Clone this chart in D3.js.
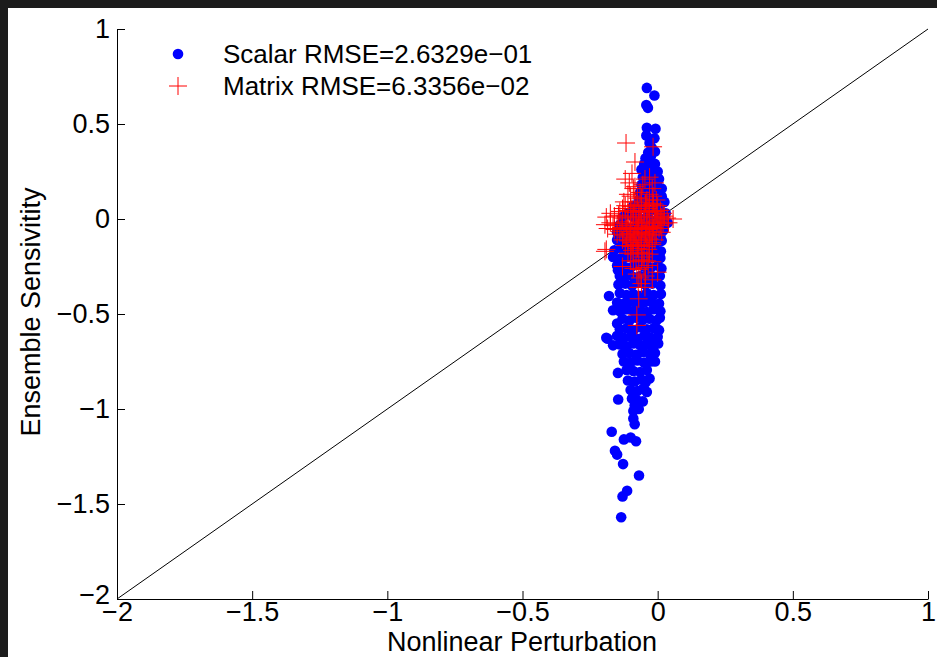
<!DOCTYPE html>
<html><head><meta charset="utf-8">
<script src="https://cdn.jsdelivr.net/npm/d3@7"></script>
<style>
html,body{margin:0;padding:0;background:#1c1c1c;}
svg{display:block;}
</style></head>
<body>
<script>
// ---- data ----
const xTicks = [-2, -1.5, -1, -0.5, 0, 0.5, 1];
const yTicks = [-2, -1.5, -1, -0.5, 0, 0.5, 1];
const xLabel = "Nonlinear Perturbation";
const yLabel = "Ensemble Sensivitity";
const legendLabels = ["Scalar RMSE=2.6329e\u221201", "Matrix RMSE=6.3356e\u221202"];
const identityLine = [[-2, -2], [1, 1]];

const scalarPts = [
 [-0.040,0.690],[-0.012,0.650],[-0.042,0.600],[-0.036,0.585],[-0.040,0.480],[-0.008,0.475],[-0.042,0.440],[-0.012,0.425],[-0.030,0.400],[-0.022,0.375],[-0.035,0.350],[-0.010,0.355],[-0.045,0.320],[-0.025,0.330],
 [-0.05,0.29],[-0.03,0.30],[-0.01,0.29],[-0.06,0.26],[-0.04,0.25],[-0.02,0.26],[0.0,0.25],[-0.055,0.22],[-0.035,0.21],[-0.015,0.22],[0.005,0.21],[-0.06,0.18],[-0.04,0.17],[-0.02,0.18],[0.0,0.17],[0.015,0.16],[-0.065,0.14],[-0.045,0.13],[-0.025,0.14],[-0.005,0.13],[0.015,0.12],[-0.07,0.10],[-0.05,0.09],[-0.03,0.10],[-0.01,0.09],[0.01,0.08],[0.025,0.09],
 [-0.09,0.07],[-0.07,0.05],[-0.05,0.06],[-0.03,0.04],[-0.01,0.05],[0.01,0.04],[0.03,0.03],[-0.11,0.03],[-0.13,0.01],[-0.09,0.01],[-0.06,0.0],[-0.04,0.01],[-0.02,-0.01],[0.0,0.0],[0.02,-0.01],[0.037,-0.02],[-0.14,-0.03],[-0.12,-0.04],[-0.1,-0.05],[-0.08,-0.04],[-0.06,-0.05],[-0.04,-0.04],[-0.02,-0.05],[0.0,-0.05],[0.02,-0.06],[-0.15,-0.07],[-0.13,-0.08],[-0.11,-0.09],[-0.09,-0.08],[-0.07,-0.09],[-0.05,-0.08],[-0.03,-0.09],[-0.01,-0.1],[0.01,-0.09],
 [-0.150,-0.11],[-0.125,-0.12],[-0.100,-0.115],[-0.075,-0.125],[-0.050,-0.12],[-0.025,-0.13],[0.000,-0.12],[0.015,-0.115],
 [-0.160,-0.165],[-0.135,-0.155],[-0.110,-0.16],[-0.085,-0.165],[-0.060,-0.155],[-0.035,-0.165],[-0.010,-0.16],[0.012,-0.17],
 [-0.165,-0.20],[-0.140,-0.21],[-0.115,-0.20],[-0.090,-0.205],[-0.065,-0.195],[-0.040,-0.21],[-0.015,-0.20],[0.010,-0.205],
 [-0.150,-0.245],[-0.147,-0.27],[-0.125,-0.25],[-0.100,-0.255],[-0.075,-0.24],[-0.050,-0.25],[-0.025,-0.255],[0.000,-0.245],[0.014,-0.26],
 [-0.140,-0.30],[-0.115,-0.295],[-0.090,-0.305],[-0.065,-0.30],[-0.040,-0.295],[-0.015,-0.305],[0.008,-0.30],
 [-0.145,-0.345],[-0.120,-0.34],[-0.095,-0.35],[-0.070,-0.335],[-0.045,-0.345],[-0.020,-0.34],[0.010,-0.35],
 [-0.180,-0.405],[-0.140,-0.39],[-0.115,-0.40],[-0.090,-0.395],[-0.065,-0.405],[-0.040,-0.39],[-0.015,-0.40],[0.012,-0.395],
 [-0.150,-0.44],[-0.125,-0.445],[-0.100,-0.435],[-0.075,-0.445],[-0.050,-0.44],[-0.025,-0.435],[0.005,-0.445],
 [-0.165,-0.48],[-0.140,-0.485],[-0.115,-0.475],[-0.090,-0.485],[-0.065,-0.48],[-0.040,-0.49],[-0.015,-0.475],[0.010,-0.485],
 [-0.150,-0.55],[-0.130,-0.525],[-0.105,-0.535],[-0.080,-0.52],[-0.055,-0.53],[-0.030,-0.525],[-0.005,-0.535],[0.008,-0.52],
 [-0.140,-0.58],[-0.115,-0.575],[-0.090,-0.585],[-0.065,-0.57],[-0.040,-0.58],[-0.015,-0.575],[0.005,-0.585],
 [-0.190,-0.625],[-0.185,-0.63],[-0.150,-0.615],[-0.125,-0.625],[-0.100,-0.62],[-0.075,-0.63],[-0.050,-0.615],[-0.025,-0.625],[0.000,-0.62],
 [-0.165,-0.665],[-0.140,-0.66],[-0.115,-0.67],[-0.090,-0.655],[-0.065,-0.665],[-0.040,-0.66],[-0.015,-0.67],[0.002,-0.655],
 [-0.130,-0.71],[-0.105,-0.705],[-0.080,-0.715],[-0.055,-0.70],[-0.030,-0.71],[-0.010,-0.705],
 [-0.125,-0.75],[-0.100,-0.755],[-0.075,-0.745],[-0.050,-0.755],[-0.025,-0.75],[-0.010,-0.75],
 [-0.147,-0.81],[-0.115,-0.795],[-0.090,-0.80],[-0.065,-0.805],[-0.040,-0.795],[-0.030,-0.84],
 [-0.110,-0.85],[-0.085,-0.855],[-0.060,-0.845],[-0.045,-0.86],
 [-0.100,-0.90],[-0.075,-0.905],[-0.055,-0.895],[-0.040,-0.91],
 [-0.146,-0.95],[-0.095,-0.945],[-0.075,-0.955],[-0.055,-0.96],[-0.085,-0.98],
 [-0.090,-1.01],[-0.070,-1.0],
 [-0.090,-1.05],[-0.085,-1.08],[-0.170,-1.12],[-0.125,-1.16],[-0.080,-1.17],[-0.100,-1.15],[-0.158,-1.22],[-0.150,-1.24],[-0.128,-1.29],[-0.069,-1.35],[-0.113,-1.43],[-0.130,-1.46],[-0.135,-1.57]
];

const matrixPts = [
 [-0.117,0.40],[-0.017,0.38],[-0.084,0.30],[-0.095,0.24],[-0.12,0.21],[-0.047,0.21],[-0.03,0.22],[-0.105,0.19],[-0.084,0.17],[-0.065,0.14],[-0.017,0.12],[-0.11,0.13],[-0.075,0.11],[-0.04,0.10],[-0.005,0.10],
 [-0.09,0.16],[-0.055,0.18],[-0.02,0.16],[-0.10,0.12],[-0.06,0.11],[-0.03,0.13],[-0.01,0.19],[-0.125,0.09],[-0.085,0.09],[-0.045,0.085],[-0.015,0.08],
 [-0.12,0.07],[-0.10,0.065],[-0.08,0.075],[-0.06,0.07],[-0.04,0.065],[-0.02,0.075],[0.00,0.07],
 [-0.14,0.04],[-0.11,0.045],[-0.09,0.035],[-0.07,0.04],[-0.05,0.045],[-0.03,0.035],[-0.01,0.04],[0.01,0.045],
 [-0.13,0.055],[-0.095,0.055],[-0.065,0.025],[-0.035,0.055],[-0.005,0.025],[0.02,0.03],
 [-0.19,0.01],[-0.16,0.015],[-0.13,0.005],[-0.11,0.01],[-0.09,0.015],[-0.07,0.005],[-0.05,0.01],[-0.03,0.015],[-0.01,0.005],[0.015,0.01],[0.057,0.0],[0.035,0.005],
 [-0.175,0.03],[-0.145,0.02],[-0.08,-0.005],[-0.04,-0.005],[0.005,-0.005],[0.025,0.015],
 [-0.195,-0.03],[-0.175,-0.02],[-0.15,-0.025],[-0.12,-0.015],[-0.10,-0.025],[-0.08,-0.02],[-0.06,-0.015],[-0.04,-0.025],[-0.02,-0.02],[0.0,-0.015],[0.02,-0.025],
 [-0.165,-0.035],[-0.11,-0.035],[-0.07,-0.035],[-0.03,-0.04],[0.01,-0.035],[0.04,-0.02],
 [-0.185,-0.05],[-0.16,-0.055],[-0.135,-0.045],[-0.115,-0.05],[-0.095,-0.055],[-0.075,-0.045],[-0.055,-0.05],[-0.035,-0.055],[-0.015,-0.045],[0.005,-0.05],
 [-0.14,-0.065],[-0.1,-0.065],[-0.06,-0.07],[-0.02,-0.065],[0.015,-0.07],
 [-0.15,-0.08],[-0.125,-0.085],[-0.105,-0.075],[-0.085,-0.08],[-0.065,-0.085],[-0.045,-0.075],[-0.025,-0.08],[-0.005,-0.085],
 [-0.13,-0.11],[-0.11,-0.115],[-0.09,-0.105],[-0.07,-0.11],[-0.05,-0.115],[-0.03,-0.105],[-0.01,-0.11],
 [-0.115,-0.095],[-0.08,-0.095],[-0.04,-0.095],[-0.02,-0.125],[-0.06,-0.125],[-0.095,-0.125],
 [-0.12,-0.14],[-0.10,-0.145],[-0.08,-0.135],[-0.06,-0.14],[-0.04,-0.145],[-0.02,-0.135],[-0.195,-0.17],
 [-0.19,-0.16],[-0.11,-0.18],[-0.09,-0.185],[-0.07,-0.175],[-0.05,-0.18],[-0.03,-0.185],
 [-0.075,-0.155],[-0.035,-0.16],[-0.095,-0.165],[-0.055,-0.2],
 [-0.10,-0.22],[-0.08,-0.225],[-0.06,-0.215],[-0.04,-0.22],[-0.02,-0.225],
 [-0.13,-0.25],[-0.09,-0.26],[-0.07,-0.265],[-0.05,-0.255],[0.0,-0.28],[-0.035,-0.245],
 [-0.077,-0.29],[-0.065,-0.31],[-0.045,-0.30],[-0.02,-0.32],
 [-0.072,-0.36],[-0.047,-0.36],[-0.06,-0.34],
 [-0.07,-0.42],[-0.077,-0.505],[-0.077,-0.56]
];

// ---- layout ----
const W = 937, H = 657;
const svg = d3.select("body").append("svg").attr("width", W).attr("height", H);
svg.append("rect").attr("x", 8).attr("y", 8).attr("width", W - 8).attr("height", H - 8).attr("fill", "#fff");

const x = d3.scaleLinear().domain([-2, 1]).range([117, 928]);
const y = d3.scaleLinear().domain([-2, 1]).range([599, 29]);
const fmt = d => (d < 0 ? "\u2212" : "") + Math.abs(d);
const FONT = "'Liberation Sans', Arial, Helvetica, sans-serif";

// identity line
svg.append("line")
  .attr("x1", x(identityLine[0][0])).attr("y1", y(identityLine[0][1]))
  .attr("x2", x(identityLine[1][0])).attr("y2", y(identityLine[1][1]))
  .attr("stroke", "#000").attr("stroke-width", 1);

// blue dots
svg.append("g").selectAll("circle").data(scalarPts).join("circle")
  .attr("cx", d => x(d[0])).attr("cy", d => y(d[1])).attr("r", 5.3)
  .attr("fill", "#0000ff");

// red plus markers
const cs = 9;
const mg = svg.append("g").attr("stroke", "#ff0000").attr("stroke-width", 1).attr("fill", "none");
mg.selectAll("path").data(matrixPts).join("path")
  .attr("d", d => `M${x(d[0]) - cs},${y(d[1])}H${x(d[0]) + cs}M${x(d[0])},${y(d[1]) - cs}V${y(d[1]) + cs}`);

// axes
const gx = svg.append("g").attr("transform", `translate(0,${y(-2)})`)
  .call(d3.axisBottom(x).tickValues(xTicks).tickFormat(fmt).tickSizeInner(-8).tickSizeOuter(0).tickPadding(3));
const gy = svg.append("g").attr("transform", `translate(${x(-2)},0)`)
  .call(d3.axisLeft(y).tickValues(yTicks).tickFormat(fmt).tickSizeInner(-8).tickSizeOuter(0).tickPadding(7));
[gx, gy].forEach(g => {
  g.selectAll("text").attr("font-family", FONT).attr("font-size", 27).attr("fill", "#000");
  g.selectAll("line,path").attr("stroke", "#000");
});
gx.selectAll("text").attr("dy", "0.72em");
gy.selectAll(".tick").filter(d => d === -2).select("text").attr("dy", "0.15em");

// axis labels
svg.append("text").attr("x", 522).attr("y", 651).attr("text-anchor", "middle")
  .attr("font-family", FONT).attr("font-size", 27).text(xLabel);
svg.append("text").attr("transform", "translate(40,312) rotate(-90)").attr("text-anchor", "middle")
  .attr("font-family", FONT).attr("font-size", 27).text(yLabel);

// legend
const lg = svg.append("g");
lg.append("circle").attr("cx", 178).attr("cy", 54).attr("r", 5.3).attr("fill", "#0000ff");
lg.append("path").attr("d", `M${178 - cs},86H${178 + cs}M178,${86 - cs}V${86 + cs}`).attr("stroke", "#ff0000").attr("stroke-width", 1);
lg.selectAll("text").data(legendLabels).join("text")
  .attr("x", 223).attr("y", (d, i) => 54 + i * 32).attr("dy", "0.36em")
  .attr("font-family", FONT).attr("font-size", 26).attr("fill", "#000").text(d => d);
</script>
</body></html>
